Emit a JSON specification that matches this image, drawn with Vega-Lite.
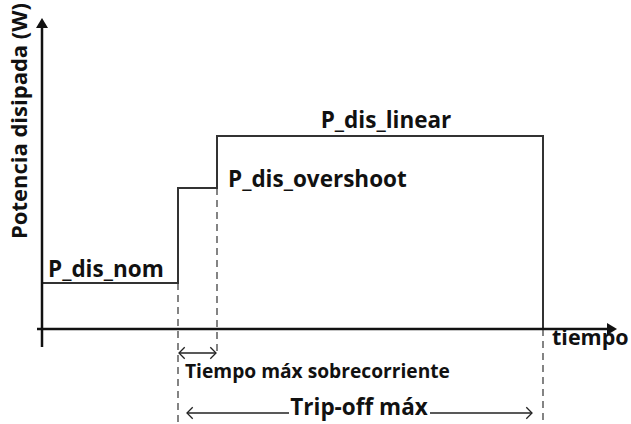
{
  "$schema": "https://vega.github.io/schema/vega-lite/v6.json",
  "width": 631,
  "height": 424,
  "padding": 0,
  "autosize": {"type": "none"},
  "background": "white",
  "config": {"view": {"stroke": null}},
  "datasets": {
    "step": [
      {"i": 0, "t": 0, "P": 46},
      {"i": 1, "t": 136, "P": 46},
      {"i": 2, "t": 136, "P": 141},
      {"i": 3, "t": 175, "P": 141},
      {"i": 4, "t": 175, "P": 193},
      {"i": 5, "t": 501, "P": 193},
      {"i": 6, "t": 501, "P": 0}
    ],
    "segs": [
      {"seg": "yaxis", "kind": "axis", "i": 0, "t": 0, "P": -18},
      {"seg": "yaxis", "kind": "axis", "i": 1, "t": 0, "P": 302},
      {"seg": "xaxis", "kind": "axis", "i": 0, "t": -5, "P": 0},
      {"seg": "xaxis", "kind": "axis", "i": 1, "t": 566, "P": 0},
      {"seg": "d1", "kind": "dash", "i": 0, "t": 136, "P": 46},
      {"seg": "d1", "kind": "dash", "i": 1, "t": 136, "P": -95},
      {"seg": "d2", "kind": "dash", "i": 0, "t": 175, "P": 141},
      {"seg": "d2", "kind": "dash", "i": 1, "t": 175, "P": -26},
      {"seg": "d3", "kind": "dash", "i": 0, "t": 501, "P": 0},
      {"seg": "d3", "kind": "dash", "i": 1, "t": 501, "P": -95},
      {"seg": "a1", "kind": "dim", "i": 0, "t": 137, "P": -24},
      {"seg": "a1", "kind": "dim", "i": 1, "t": 174, "P": -24},
      {"seg": "a2", "kind": "dim", "i": 0, "t": 145, "P": -84},
      {"seg": "a2", "kind": "dim", "i": 1, "t": 247, "P": -84},
      {"seg": "a3", "kind": "dim", "i": 0, "t": 388, "P": -84},
      {"seg": "a3", "kind": "dim", "i": 1, "t": 490, "P": -84}
    ],
    "heads": [
      {"kind": "up", "t": 0, "P": 311},
      {"kind": "right", "t": 575, "P": 0},
      {"kind": "openleft", "t": 137, "P": -24},
      {"kind": "openright", "t": 174, "P": -24},
      {"kind": "openleft", "t": 145, "P": -84},
      {"kind": "openright", "t": 490, "P": -84}
    ],
    "labels": [
      {"kind": "big", "label": "P_dis_nom", "t": 6, "P": 52},
      {"kind": "big", "label": "P_dis_overshoot", "t": 186, "P": 142},
      {"kind": "bigc", "label": "P_dis_linear", "t": 344, "P": 201},
      {"kind": "axisname", "label": "tiempo", "t": 510, "P": -16},
      {"kind": "small", "label": "Tiempo máx sobrecorriente", "t": 143, "P": -49},
      {"kind": "bigc", "label": "Trip-off máx", "t": 317, "P": -86},
      {"kind": "title", "label": "Potencia disipada (W)", "t": -22, "P": 208}
    ]
  },
  "encoding": {
    "x": {"field": "t", "type": "quantitative", "scale": {"domain": [-42, 589], "nice": false, "zero": false}, "axis": null},
    "y": {"field": "P", "type": "quantitative", "scale": {"domain": [-95, 329], "nice": false, "zero": false}, "axis": null}
  },
  "layer": [
    {
      "data": {"name": "segs"},
      "transform": [{"filter": "datum.kind === 'dash'"}],
      "mark": {"type": "line", "color": "#333333", "strokeWidth": 1.2, "strokeDash": [7, 5]},
      "encoding": {"detail": {"field": "seg"}, "order": {"field": "i"}}
    },
    {
      "data": {"name": "step"},
      "mark": {"type": "line", "color": "#333333", "strokeWidth": 2},
      "encoding": {"order": {"field": "i"}}
    },
    {
      "data": {"name": "segs"},
      "transform": [{"filter": "datum.kind === 'axis'"}],
      "mark": {"type": "line", "color": "#111111", "strokeWidth": 2.5},
      "encoding": {"detail": {"field": "seg"}, "order": {"field": "i"}}
    },
    {
      "data": {"name": "segs"},
      "transform": [{"filter": "datum.kind === 'dim'"}],
      "mark": {"type": "line", "color": "#222222", "strokeWidth": 1.3},
      "encoding": {"detail": {"field": "seg"}, "order": {"field": "i"}}
    },
    {
      "data": {"name": "heads"},
      "transform": [{"filter": "datum.kind === 'up'"}],
      "mark": {"type": "point", "shape": "M0,0L-0.6,1L0.6,1Z", "filled": true, "color": "#111111", "opacity": 1, "size": 400}
    },
    {
      "data": {"name": "heads"},
      "transform": [{"filter": "datum.kind === 'right'"}],
      "mark": {"type": "point", "shape": "M0,0L-1,-0.6L-1,0.6Z", "filled": true, "color": "#111111", "opacity": 1, "size": 400}
    },
    {
      "data": {"name": "heads"},
      "transform": [{"filter": "datum.kind === 'openleft'"}],
      "mark": {"type": "point", "shape": "M1,-1L0,0L1,1", "filled": false, "color": "#222222", "opacity": 1, "strokeWidth": 1.3, "size": 130}
    },
    {
      "data": {"name": "heads"},
      "transform": [{"filter": "datum.kind === 'openright'"}],
      "mark": {"type": "point", "shape": "M-1,-1L0,0L-1,1", "filled": false, "color": "#222222", "opacity": 1, "strokeWidth": 1.3, "size": 130}
    },
    {
      "data": {"name": "labels"},
      "transform": [{"filter": "datum.kind === 'big'"}],
      "mark": {"type": "text", "align": "left", "baseline": "alphabetic", "font": "Open Sans", "fontWeight": "bold", "fontSize": 22.5, "color": "#111111"},
      "encoding": {"text": {"field": "label"}}
    },
    {
      "data": {"name": "labels"},
      "transform": [{"filter": "datum.kind === 'axisname'"}],
      "mark": {"type": "text", "align": "left", "baseline": "alphabetic", "font": "Open Sans", "fontWeight": "bold", "fontSize": 21.5, "color": "#111111"},
      "encoding": {"text": {"field": "label"}}
    },
    {
      "data": {"name": "labels"},
      "transform": [{"filter": "datum.kind === 'bigc'"}],
      "mark": {"type": "text", "align": "center", "baseline": "alphabetic", "font": "Open Sans", "fontWeight": "bold", "fontSize": 22.5, "color": "#111111"},
      "encoding": {"text": {"field": "label"}}
    },
    {
      "data": {"name": "labels"},
      "transform": [{"filter": "datum.kind === 'small'"}],
      "mark": {"type": "text", "align": "left", "baseline": "alphabetic", "font": "Open Sans", "fontWeight": "bold", "fontSize": 19.2, "color": "#111111"},
      "encoding": {"text": {"field": "label"}}
    },
    {
      "data": {"name": "labels"},
      "transform": [{"filter": "datum.kind === 'title'"}],
      "mark": {"type": "text", "align": "center", "baseline": "middle", "angle": 270, "font": "Open Sans", "fontWeight": "bold", "fontSize": 22, "color": "#111111"},
      "encoding": {"text": {"field": "label"}}
    }
  ]
}
